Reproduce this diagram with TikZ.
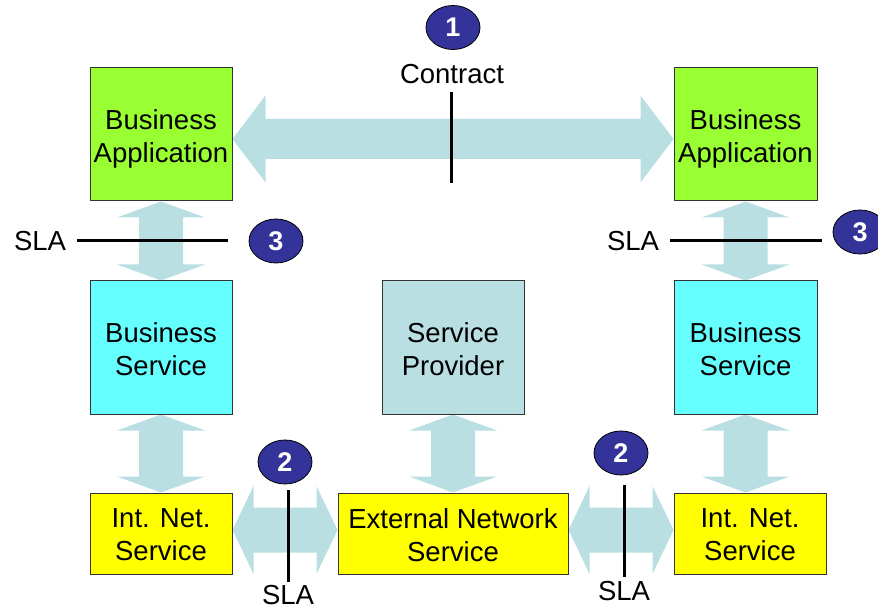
\documentclass[tikz,border=0pt]{standalone}
\usepackage{fontspec}
\setmainfont{Liberation Sans}
\usetikzlibrary{calc,backgrounds,shapes.geometric}

\definecolor{appgreen}{HTML}{99FF33}
\definecolor{svccyan}{HTML}{66FFFF}
\definecolor{netyellow}{HTML}{FFFF00}
\definecolor{provgray}{HTML}{B9DFE2}
\definecolor{fatblue}{HTML}{B9DFE2}
\definecolor{badgeblue}{HTML}{333399}
\definecolor{boxline}{HTML}{333333}

\tikzset{
  box/.style={draw=boxline, line width=1pt, inner sep=0pt},
  txt/.style={align=center, inner sep=0pt, font=\fontsize{27.5}{33}\selectfont},
  badge/.style={ellipse, draw=black, line width=0.8pt, fill=badgeblue,
    minimum width=54pt, minimum height=44pt, inner sep=0pt, text=white,
    font=\fontsize{27}{30}\selectfont\bfseries},
  lbl/.style={inner sep=0pt, font=\fontsize{27.5}{33}\selectfont},
  rule/.style={line width=3pt, black},
  fat/.style={fill=fatblue}
}

% horizontal double block arrow: from, to, head length, head half-width, shaft half-width
\newcommand\hfat[5]{%
  \fill[fat] let \p1=(#1), \p2=(#2) in
    (\x1,\y1) -- (\x1+#3pt,\y1+#4pt) -- (\x1+#3pt,\y1+#5pt) -- (\x2-#3pt,\y1+#5pt)
    -- (\x2-#3pt,\y1+#4pt) -- (\x2,\y1) -- (\x2-#3pt,\y1-#4pt) -- (\x2-#3pt,\y1-#5pt)
    -- (\x1+#3pt,\y1-#5pt) -- (\x1+#3pt,\y1-#4pt) -- cycle;}

% vertical double block arrow between a lower and an upper anchor
\newcommand\vfat[2]{%
  \fill[fat] let \p1=(#1), \p2=(#2) in
    (\x1,\y1) -- (\x1+44pt,\y1-16pt) -- (\x1+22pt,\y1-16pt) -- (\x1+22pt,\y2+16pt)
    -- (\x1+44pt,\y2+16pt) -- (\x1,\y2) -- (\x1-44pt,\y2+16pt) -- (\x1-22pt,\y2+16pt)
    -- (\x1-22pt,\y1-16pt) -- (\x1-44pt,\y1-16pt) -- cycle;}

\begin{document}
\begin{tikzpicture}[x=1pt, y=-1pt]
  \useasboundingbox (0,0) rectangle (878,609);

  % boxes
  \node[box, fill=appgreen, minimum width=142pt, minimum height=133pt] (ba1) at (161,134.5) {};
  \node[box, fill=appgreen, minimum width=143pt, minimum height=133pt] (ba2) at (745.5,134.5) {};
  \node[box, fill=svccyan, minimum width=142pt, minimum height=133pt] (bs1) at (161,347.5) {};
  \node[box, fill=provgray, minimum width=142pt, minimum height=133pt] (sp) at (453,347.5) {};
  \node[box, fill=svccyan, minimum width=143pt, minimum height=133pt] (bs2) at (745.5,347.5) {};
  \node[box, fill=netyellow, minimum width=142pt, minimum height=81pt] (in1) at (161,533.5) {};
  \node[box, fill=netyellow, minimum width=230pt, minimum height=81pt] (ens) at (453,533.5) {};
  \node[box, fill=netyellow, minimum width=152pt, minimum height=81pt] (in2) at (750,533.5) {};

  % box captions
  \node[txt] (ba1t) at ($(ba1)+(0,4)$) {Business\\Application};
  \node[txt] (ba2t) at ($(ba2)+(0,4)$) {Business\\Application};
  \node[txt] (bs1t) at ($(bs1)+(0,1.5)$) {Business\\Service};
  \node[txt] (spt) at ($(sp)+(0,1.5)$) {Service\\Provider};
  \node[txt] (bs2t) at ($(bs2)+(0,1.5)$) {Business\\Service};
  \node[txt] (in1t) at ($(in1)+(0,1.5)$) {Int. Net.\\Service};
  \node[txt] (enst) at ($(ens)+(0,1.5)$) {External Network\\Service};
  \node[txt] (in2t) at ($(in2)+(0,1.5)$) {Int. Net.\\Service};

  % block arrows behind the boxes
  \begin{pgfonlayer}{background}
    \hfat{$(ba1.east)+(0,4.5)$}{$(ba2.west)+(0,4.5)$}{33}{43.5}{20}
    \hfat{$(in1.east)+(0,-3.5)$}{$(ens.west)+(0,-3.5)$}{21}{44}{22.5}
    \hfat{$(ens.east)+(0,-3.5)$}{$(in2.west)+(0,-3.5)$}{21}{44}{22.5}
    \vfat{ba1.south}{bs1.north}
    \vfat{ba2.south}{bs2.north}
    \vfat{bs1.south}{in1.north}
    \vfat{sp.south}{ens.north}
    \vfat{bs2.south}{in2.north}
  \end{pgfonlayer}

  % contract
  \node[badge] (n1) at (453,27.5) {1};
  \node[lbl] (contract) at (452,74) {Contract};
  \coordinate (ct) at (451,92);
  \coordinate (cb) at (451,183);
  \draw[rule] (ct) -- (cb);

  % SLA between application and service
  \node[lbl] (slaL) at (40,241) {SLA};
  \coordinate (slaLs) at (77,241);
  \coordinate (slaLe) at (228,241);
  \draw[rule] (slaLs) -- (slaLe);
  \node[badge] (n3L) at (276,241) {3};

  \node[lbl] (slaR) at (633,241) {SLA};
  \coordinate (slaRs) at (670,241);
  \coordinate (slaRe) at (822,241);
  \draw[rule] (slaRs) -- (slaRe);
  \node[badge] (n3R) at (860,232) {3};

  % SLA between network services
  \node[badge] (n2L) at (285,462) {2};
  \node[lbl] (slaBL) at (288,595) {SLA};
  \coordinate (bLt) at (288,490);
  \coordinate (bLb) at (288,582);
  \draw[rule] (bLt) -- (bLb);

  \node[badge] (n2R) at (621,453) {2};
  \node[lbl] (slaBR) at (624,591) {SLA};
  \coordinate (bRt) at (624,485);
  \coordinate (bRb) at (624,577);
  \draw[rule] (bRt) -- (bRb);
\end{tikzpicture}
\end{document}
